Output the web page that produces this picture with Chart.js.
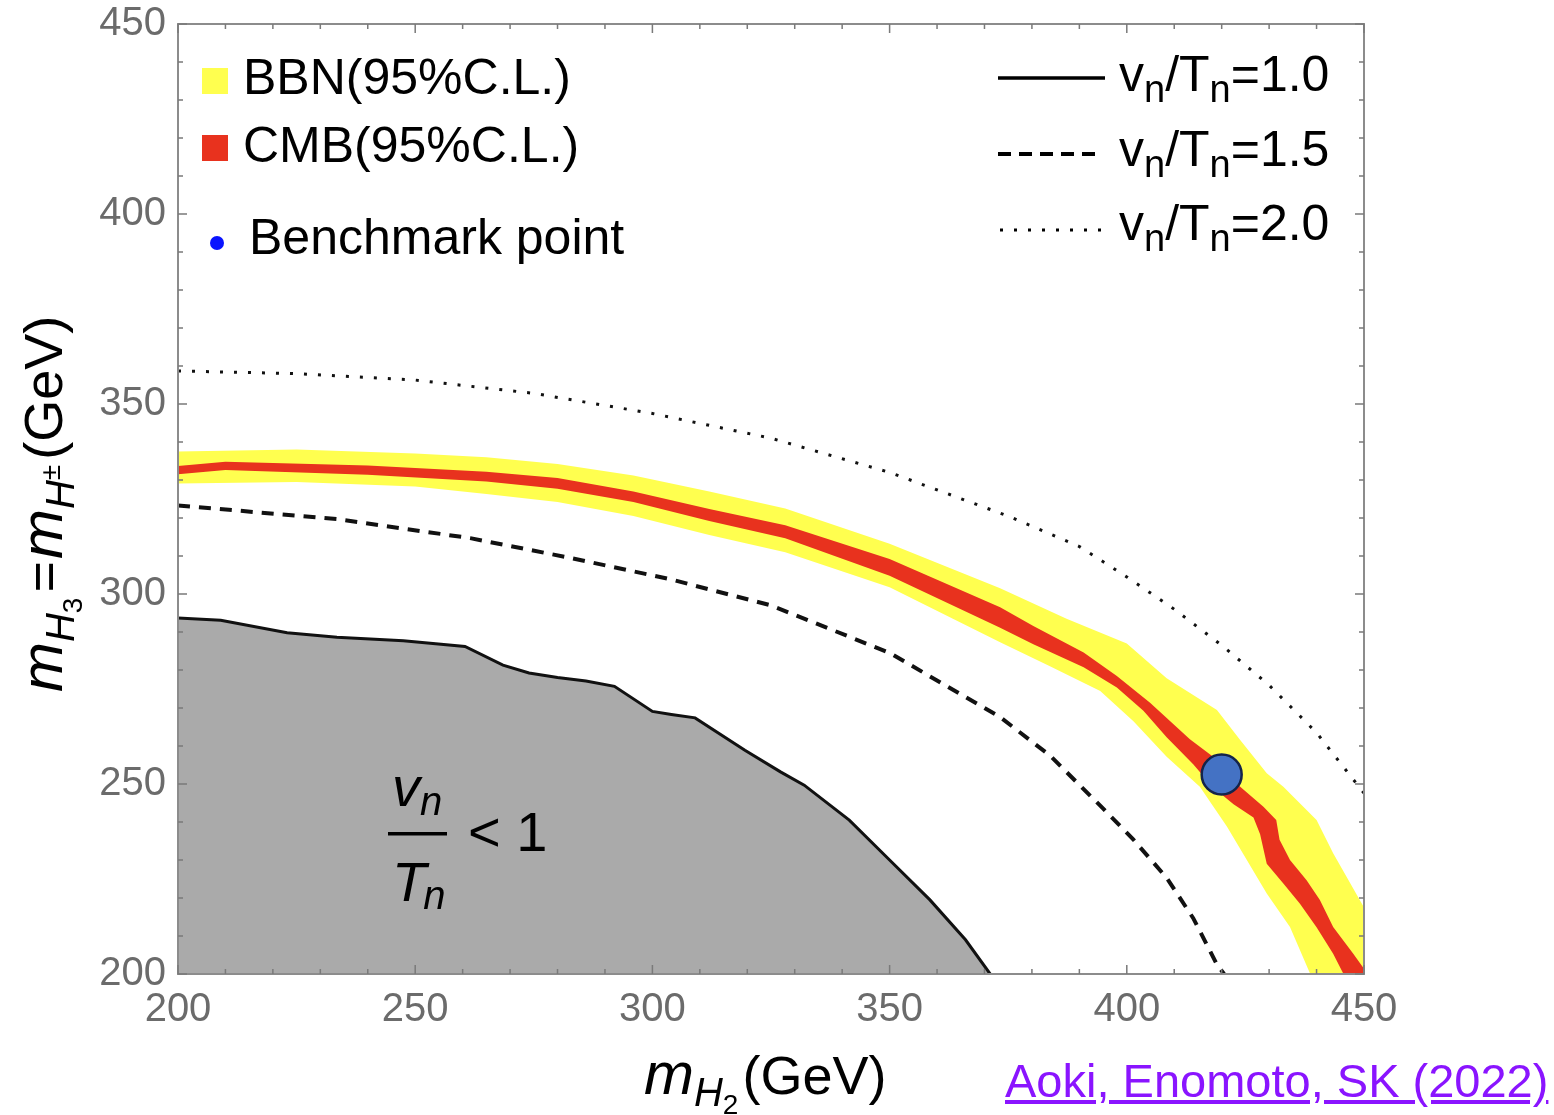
<!DOCTYPE html>
<html>
<head>
<meta charset="utf-8">
<script src="https://cdn.jsdelivr.net/npm/chart.js@4"></script>
<style>
html,body{margin:0;padding:0;background:#fff;}
#wrap{position:relative;width:1554px;height:1115px;}
#ref{position:absolute;left:1005px;top:1057px;font:47px/47px "Liberation Sans",Arial,sans-serif;color:#8a14ff;text-decoration:underline;white-space:nowrap;}
</style>
</head>
<body>
<div id="wrap">
<canvas id="c" width="1554" height="1115"></canvas>
<a id="ref" href="#">Aoki, Enomoto, SK (2022)</a>
</div>
<script>
// axis ticks
const xTicks = [200, 250, 300, 350, 400, 450];
const yTicks = [200, 250, 300, 350, 400, 450];

// vn/Tn = 1.0 (edge of grey region)
const solidX = [200, 209, 223, 233.5, 247.5, 260.5, 268.5, 274, 280, 286, 292, 300, 304, 309, 319.5, 327, 332, 341.5, 350, 358.5, 366, 371.2];
const solidY = [293.7, 293.1, 289.8, 288.6, 287.7, 286.2, 281.3, 279.2, 278, 277.1, 275.7, 269.1, 268.3, 267.4, 258.9, 253.2, 249.7, 240.5, 230, 219.5, 209, 200];

// vn/Tn = 1.5
const dashX = [200, 233.5, 261.6, 282.7, 303.7, 325, 350, 373.3, 383.8, 394.4, 401.3, 408.4, 414, 419, 420.5];
const dashY = [323.3, 319.7, 314.7, 309.5, 303.9, 297, 284.5, 267.6, 257.5, 244.3, 235.5, 225.3, 214.7, 202.5, 200];

// vn/Tn = 2.0
const dotX = [200, 225, 250, 275, 300, 325, 350, 375, 390, 400, 410, 420, 430, 440, 450];
const dotY = [358.7, 358, 356.3, 352.8, 347.5, 341, 332, 320.5, 312.5, 304.5, 296, 286.5, 276, 263.5, 247.6];

// BBN band edges
const bbnTopX = [200, 225, 250, 265, 280, 296, 312, 328, 350, 373.3, 387.3, 400, 408.4, 419, 423.9, 429.5, 433, 440, 443.5, 447.1, 450];
const bbnTopY = [337.5, 338, 337, 336, 334.2, 331.2, 327, 322.5, 313.2, 301.5, 293.5, 287, 277.8, 269.5, 261.6, 252.8, 249.3, 240.5, 231.8, 223.9, 217.5];
const bbnLowX = [200, 225, 250, 265, 280, 296, 312, 328, 350, 373.3, 383.8, 394.4, 401.4, 408.4, 415.4, 421.1, 425.3, 429.5, 434.4, 438.6, 450];
const bbnLowY = [329.1, 329.5, 328.3, 326.3, 324.2, 320.5, 315.5, 311, 301.8, 287.3, 281, 274.5, 266.5, 257.2, 249.3, 238.8, 230, 221.2, 212.4, 200.2, 180];

// CMB band edges
const cmbTopX = [200, 210, 240, 265, 280, 296, 312, 328, 350, 373.3, 380.3, 390.9, 397.9, 404.9, 413.3, 418.2, 423.9, 428.8, 431.5, 432.2, 434.4, 437.9, 440.7, 443.5, 447.7, 450];
const cmbTopY = [333.7, 334.8, 333.8, 332.2, 330.5, 327, 322.4, 318.1, 309.2, 296.5, 291.6, 284.6, 278.4, 271.4, 261.8, 257.2, 249.3, 244, 240.5, 235.3, 230, 224.7, 219.5, 212.4, 205.4, 201.4];
const cmbLowX = [200, 210, 240, 265, 280, 296, 312, 328, 350, 373.3, 380.3, 390.9, 397.9, 403.5, 408.4, 414, 418.2, 422.5, 426.7, 428.1, 429.5, 433, 436.5, 440, 443.5, 445.6, 450];
const cmbLowY = [331.5, 332.6, 331.4, 329.6, 327.7, 324.2, 319.2, 314.7, 304.8, 291.1, 286.8, 280.7, 275.4, 269.3, 262.3, 255.2, 249.1, 244.7, 241.2, 236.8, 229, 223.8, 218.5, 212.3, 205.3, 200.2, 192];

// benchmark point
const benchX = [420];
const benchY = [252.5];

const YELLOW = '#ffff4f';
const RED = '#e8321e';
const GREY = '#aaaaaa';
const FONT = '"Liberation Sans", Arial, sans-serif';

const pts = (xs, ys) => xs.map((x, i) => ({x: x, y: ys[i]}));
const none = 'rgba(0,0,0,0)';

function runs(ctx, x, y, parts) {
  for (const p of parts) {
    ctx.font = p[1];
    ctx.fillText(p[0], x, y + (p[2] || 0));
    x += ctx.measureText(p[0]).width + (p[3] || 0);
  }
  return x;
}

const frame = {
  id: 'frame',
  afterDatasetsDraw(chart) {
    const {ctx, chartArea: a, scales: {x, y}} = chart;
    ctx.save();
    ctx.strokeStyle = '#8c8c8c';
    ctx.lineWidth = 2;
    ctx.strokeRect(a.left, a.top, a.right - a.left, a.bottom - a.top);
    ctx.strokeStyle = '#7a7a7a';
    ctx.lineWidth = 1.5;
    for (let v = xTicks[0]; v <= xTicks[xTicks.length - 1]; v += 10) {
      const len = v % 50 === 0 ? 9 : 5;
      const px = x.getPixelForValue(v);
      ctx.beginPath();
      ctx.moveTo(px, a.bottom); ctx.lineTo(px, a.bottom - len);
      ctx.moveTo(px, a.top); ctx.lineTo(px, a.top + len);
      ctx.stroke();
    }
    for (let v = yTicks[0]; v <= yTicks[yTicks.length - 1]; v += 10) {
      const len = v % 50 === 0 ? 9 : 5;
      const py = y.getPixelForValue(v);
      ctx.beginPath();
      ctx.moveTo(a.left, py); ctx.lineTo(a.left + len, py);
      ctx.moveTo(a.right, py); ctx.lineTo(a.right - len, py);
      ctx.stroke();
    }
    ctx.restore();
  }
};

const labels = {
  id: 'labels',
  afterDraw(chart) {
    const ctx = chart.ctx;
    ctx.save();
    ctx.fillStyle = '#000';
    ctx.textBaseline = 'alphabetic';
    ctx.textAlign = 'left';

    // left legend
    ctx.fillStyle = YELLOW; ctx.fillRect(202, 68, 26, 26);
    ctx.fillStyle = RED; ctx.fillRect(202, 135, 26, 26);
    ctx.fillStyle = '#0a14ff';
    ctx.beginPath(); ctx.arc(217, 243, 7, 0, Math.PI * 2); ctx.fill();
    ctx.fillStyle = '#000';
    ctx.font = '50px ' + FONT;
    ctx.fillText('BBN(95%C.L.)', 243, 94);
    ctx.fillText('CMB(95%C.L.)', 243, 162);
    ctx.fillText('Benchmark point', 249, 254);

    // right legend
    ctx.strokeStyle = '#000';
    ctx.lineWidth = 3.5;
    ctx.beginPath(); ctx.moveTo(998, 78); ctx.lineTo(1105, 78); ctx.stroke();
    ctx.setLineDash([13, 8]); ctx.lineWidth = 4;
    ctx.beginPath(); ctx.moveTo(998, 154); ctx.lineTo(1103, 154); ctx.stroke();
    ctx.setLineDash([3, 11]); ctx.lineWidth = 3;
    ctx.beginPath(); ctx.moveTo(1000, 230); ctx.lineTo(1105, 230); ctx.stroke();
    ctx.setLineDash([]);
    const vals = ['1.0', '1.5', '2.0'];
    const base = [91, 166, 240];
    vals.forEach((v, i) => {
      runs(ctx, 1119, base[i], [
        ['v', '50px ' + FONT], ['n', '38px ' + FONT, 11],
        ['/T', '50px ' + FONT], ['n', '38px ' + FONT, 11],
        ['=' + v, '50px ' + FONT]
      ]);
    });

    // region label inside grey area
    runs(ctx, 392, 806, [['v', 'italic 56px ' + FONT], ['n', 'italic 40px ' + FONT, 9]]);
    ctx.fillRect(388, 832, 59, 3.5);
    runs(ctx, 392, 901, [['T', 'italic 56px ' + FONT, 0, -3], ['n', 'italic 40px ' + FONT, 8]]);
    ctx.font = '56px ' + FONT;
    ctx.fillText('< 1', 468, 851);

    // x axis title
    runs(ctx, 644, 1094, [
      ['m', 'italic 60px ' + FONT],
      ['H', 'italic 40px ' + FONT, 12],
      ['2', '28px ' + FONT, 20, 4],
      ['(GeV)', '54px ' + FONT]
    ]);

    // y axis title
    ctx.translate(62, 692);
    ctx.rotate(-Math.PI / 2);
    runs(ctx, 0, 0, [
      ['m', 'italic 60px ' + FONT],
      ['H', 'italic 40px ' + FONT, 12],
      ['3', '28px ' + FONT, 20, 5],
      ['=', '54px ' + FONT, 0, 2],
      ['m', 'italic 60px ' + FONT],
      ['H', 'italic 40px ' + FONT, 12],
      ['\u00b1', '28px ' + FONT, -2, 5],
      ['(GeV)', '54px ' + FONT]
    ]);
    ctx.restore();
  }
};

const lineBase = {pointRadius: 0, pointHoverRadius: 0, tension: 0, clip: 0};

new Chart(document.getElementById('c'), {
  type: 'line',
  data: {
    datasets: [
      Object.assign({label: 'Benchmark point', data: pts(benchX, benchY), showLine: false,
        pointRadius: 20, pointHoverRadius: 20, pointBackgroundColor: '#4472c4',
        pointBorderColor: '#14244a', pointBorderWidth: 2.5, order: 0}),
      Object.assign({}, lineBase, {label: 'cmbTop', data: pts(cmbTopX, cmbTopY),
        borderColor: none, borderWidth: 0, fill: false, order: 3}),
      Object.assign({}, lineBase, {label: 'CMB(95%C.L.)', data: pts(cmbLowX, cmbLowY),
        borderColor: none, borderWidth: 0, fill: '-1', backgroundColor: RED, order: 3}),
      Object.assign({}, lineBase, {label: 'bbnTop', data: pts(bbnTopX, bbnTopY),
        borderColor: none, borderWidth: 0, fill: false, order: 4}),
      Object.assign({}, lineBase, {label: 'BBN(95%C.L.)', data: pts(bbnLowX, bbnLowY),
        borderColor: none, borderWidth: 0, fill: '-1', backgroundColor: YELLOW, order: 4}),
      Object.assign({}, lineBase, {label: 'vn/Tn=2.0', data: pts(dotX, dotY),
        borderColor: '#111', borderWidth: 3, borderDash: [3, 11], fill: false, order: 5}),
      Object.assign({}, lineBase, {label: 'vn/Tn=1.5', data: pts(dashX, dashY),
        borderColor: '#111', borderWidth: 4, borderDash: [12, 9], fill: false, order: 5}),
      Object.assign({}, lineBase, {label: 'vn/Tn=1.0', data: pts(solidX, solidY),
        borderColor: '#111', borderWidth: 3, fill: 'start', backgroundColor: GREY, order: 6})
    ]
  },
  options: {
    responsive: false,
    animation: false,
    events: [],
    layout: {padding: {left: 0, top: 24, right: 190, bottom: 0}},
    plugins: {legend: {display: false}, tooltip: {enabled: false}},
    scales: {
      x: {
        type: 'linear', min: xTicks[0], max: xTicks[xTicks.length - 1],
        grid: {display: false, drawTicks: true, tickLength: 12}, border: {display: false},
        afterBuildTicks: s => { s.ticks = xTicks.map(v => ({value: v})); },
        ticks: {color: '#6b6b6b', font: {family: FONT, size: 40}, padding: 0, maxRotation: 0},
        afterFit: s => { s.height = 141; }
      },
      y: {
        type: 'linear', min: yTicks[0], max: yTicks[yTicks.length - 1],
        grid: {display: false, drawTicks: true, tickLength: 12}, border: {display: false},
        afterBuildTicks: s => { s.ticks = yTicks.map(v => ({value: v})); },
        ticks: {color: '#6b6b6b', font: {family: FONT, size: 40}, padding: 0},
        afterFit: s => { s.width = 178; }
      }
    }
  },
  plugins: [frame, labels]
});
</script>
</body>
</html>
